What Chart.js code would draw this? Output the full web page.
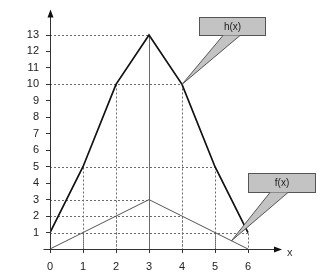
<!DOCTYPE html>
<html>
<head>
<meta charset="utf-8">
<script src="https://cdn.jsdelivr.net/npm/chart.js@4/dist/chart.umd.min.js"></script>
<style>
  html, body { margin: 0; background: #fff; }
</style>
</head>
<body>
<canvas id="chart" width="320" height="280"></canvas>
<script>
const xValues = [0, 1, 2, 3, 4, 5, 6];
const hValues = [1, 5, 10, 13, 10, 5, 1];
const fValues = [0, 1, 2, 3, 2, 1, 0];
const xTicks = [0, 1, 2, 3, 4, 5, 6];
const yTicks = [0, 1, 2, 3, 4, 5, 6, 7, 8, 9, 10, 11, 12, 13];
const hLabel = 'h(x)';
const fLabel = 'f(x)';
const axisLabel = 'x';

const FONT = '"Liberation Sans", Arial, sans-serif';

function toPoints(ys) {
  return xValues.map((x, i) => ({ x: x, y: ys[i] }));
}

// dashed drop lines from each point to both axes
const dropLines = {
  id: 'dropLines',
  beforeDatasetsDraw(chart) {
    const { ctx, scales: { x, y } } = chart;
    const x0 = x.getPixelForValue(0);
    const y0 = y.getPixelForValue(0);
    const peak = Math.max(...hValues);
    ctx.save();
    ctx.strokeStyle = '#6a6a6a';
    ctx.lineWidth = 1;
    chart.data.datasets.forEach(ds => {
      ds.data.forEach(p => {
        const px = Math.round(x.getPixelForValue(p.x)) + 0.5;
        const py = Math.round(y.getPixelForValue(p.y)) + 0.5;
        ctx.setLineDash([2, 2]);
        if (p.y > 0) {
          ctx.beginPath();
          ctx.moveTo(x0, py);
          ctx.lineTo(px, py);
          ctx.stroke();
        }
        if (p.x > 0 && p.y > 0) {
          if (p.y === peak) ctx.setLineDash([]);
          ctx.beginPath();
          ctx.moveTo(px, py);
          ctx.lineTo(px, y0);
          ctx.stroke();
        }
      });
    });
    ctx.restore();
  }
};

// axes with arrow heads
const arrowAxes = {
  id: 'arrowAxes',
  afterDatasetsDraw(chart) {
    const { ctx, chartArea: a, scales: { x, y } } = chart;
    const x0 = Math.round(x.getPixelForValue(0)) + 0.5;
    const y0 = Math.round(y.getPixelForValue(0)) + 0.5;
    const top = a.top - 4;
    ctx.save();
    ctx.strokeStyle = '#333';
    ctx.fillStyle = '#111';
    ctx.lineWidth = 1;
    ctx.beginPath();
    ctx.moveTo(x0 - 7, y0);
    ctx.lineTo(a.right - 6, y0);
    ctx.moveTo(x0, y0 + 1);
    ctx.lineTo(x0, top + 6);
    ctx.stroke();
    ctx.beginPath();
    ctx.moveTo(a.right + 1, y0);
    ctx.lineTo(a.right - 7, y0 - 3);
    ctx.lineTo(a.right - 7, y0 + 3);
    ctx.closePath();
    ctx.fill();
    ctx.beginPath();
    ctx.moveTo(x0, top);
    ctx.lineTo(x0 - 3, top + 8);
    ctx.lineTo(x0 + 3, top + 8);
    ctx.closePath();
    ctx.fill();
    ctx.font = '11px ' + FONT;
    ctx.fillStyle = '#333';
    ctx.textBaseline = 'middle';
    ctx.fillText(axisLabel, a.right + 6, y0 + 3);
    ctx.restore();
  }
};

// grey callout boxes pointing at the curves
const callouts = {
  id: 'callouts',
  afterDatasetsDraw(chart) {
    const { ctx, scales: { x, y } } = chart;
    const items = [
      { text: hLabel, box: [199, 17, 66, 18], base: [223, 240], tip: [x.getPixelForValue(4), y.getPixelForValue(hValues[4])] },
      { text: fLabel, box: [248, 173, 67, 19], base: [270, 288], tip: [x.getPixelForValue(5.5), y.getPixelForValue((fValues[5] + fValues[6]) / 2)] }
    ];
    ctx.save();
    items.forEach(c => {
      const [bx, by, bw, bh] = c.box;
      ctx.fillStyle = '#c3c3c3';
      ctx.strokeStyle = '#555';
      ctx.lineWidth = 1;
      ctx.fillRect(bx + 0.5, by + 0.5, bw, bh);
      ctx.strokeRect(bx + 0.5, by + 0.5, bw, bh);
      ctx.beginPath();
      ctx.moveTo(c.base[0], by + bh + 0.5);
      ctx.lineTo(c.tip[0], c.tip[1]);
      ctx.lineTo(c.base[1], by + bh + 0.5);
      ctx.closePath();
      ctx.fill();
      ctx.beginPath();
      ctx.moveTo(c.base[0], by + bh + 0.5);
      ctx.lineTo(c.tip[0], c.tip[1]);
      ctx.lineTo(c.base[1], by + bh + 0.5);
      ctx.stroke();
      ctx.fillStyle = '#222';
      ctx.font = '10px ' + FONT;
      ctx.textAlign = 'center';
      ctx.textBaseline = 'middle';
      ctx.fillText(c.text, bx + bw / 2 + 0.5, by + bh / 2 + 1);
    });
    ctx.restore();
  }
};

new Chart(document.getElementById('chart'), {
  type: 'line',
  data: {
    datasets: [
      { label: hLabel, data: toPoints(hValues), borderColor: '#111', borderWidth: 1.7, pointRadius: 0, tension: 0 },
      { label: fLabel, data: toPoints(fValues), borderColor: '#555', borderWidth: 1, pointRadius: 0, tension: 0 }
    ]
  },
  options: {
    responsive: false,
    animation: false,
    layout: { padding: { left: 0, right: 39, top: 2, bottom: 0 } },
    plugins: { legend: { display: false }, tooltip: { enabled: false } },
    scales: {
      x: {
        type: 'linear',
        min: 0,
        max: 7,
        afterBuildTicks: s => { s.ticks = xTicks.map(v => ({ value: v })); },
        afterFit: s => { s.height = 31; },
        border: { display: false },
        grid: { drawOnChartArea: false, drawTicks: true, tickLength: 4, color: '#333' },
        ticks: { color: '#222', font: { family: FONT, size: 11 }, padding: 7, maxRotation: 0, autoSkip: false }
      },
      y: {
        min: 0,
        max: 14.3,
        afterBuildTicks: s => { s.ticks = yTicks.map(v => ({ value: v })); },
        afterFit: s => { s.width = 50; },
        border: { display: false },
        grid: { drawOnChartArea: false, drawTicks: true, tickLength: 4, color: '#333' },
        ticks: { color: '#222', font: { family: FONT, size: 11 }, padding: 7, autoSkip: false, callback: v => v === 0 ? '' : v }
      }
    }
  },
  plugins: [dropLines, arrowAxes, callouts]
});
</script>
</body>
</html>
